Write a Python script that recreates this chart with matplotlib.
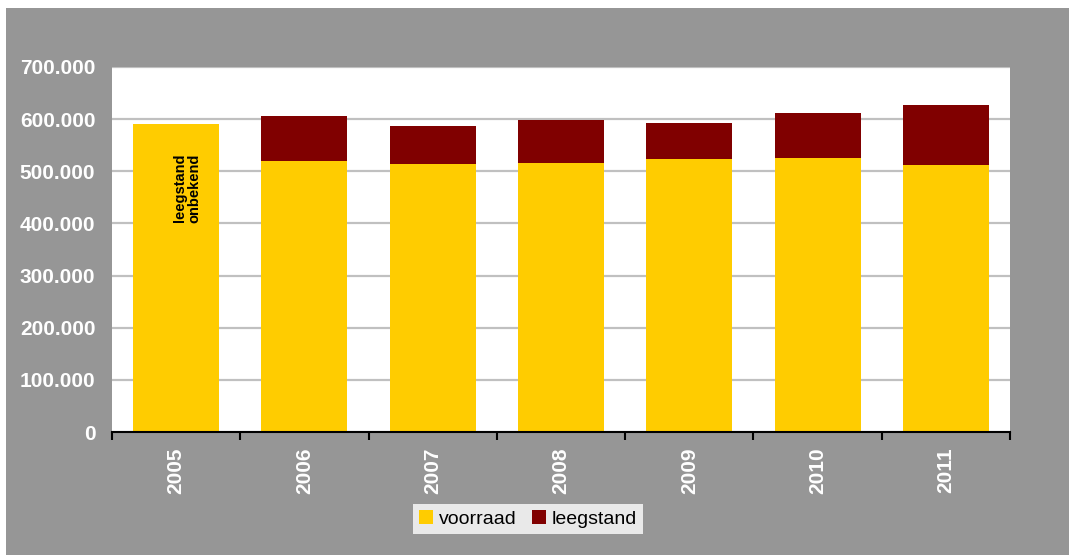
import matplotlib
matplotlib.use("Agg")
import matplotlib.pyplot as plt
from matplotlib.patches import Rectangle
from matplotlib.ticker import FuncFormatter, FixedLocator

years = ["2005", "2006", "2007", "2008", "2009", "2010", "2011"]
voorraad = [590000, 520000, 514000, 516000, 523000, 525000, 512000]
leegstand = [0, 86000, 73000, 82000, 69000, 87000, 115000]
annotation = "leegstand\nonbekend"

YELLOW = "#FFCC00"
DARKRED = "#800000"
GRAY = "#969696"

plt.rcParams['font.family'] = ['Liberation Sans', 'DejaVu Sans']

fig = plt.figure(figsize=(10.69, 5.55), dpi=100)
fig.patch.set_facecolor("white")
fig.patches.append(Rectangle((6/1069, 0), 1 - 6/1069, (555 - 8)/555,
                             transform=fig.transFigure, facecolor=GRAY,
                             edgecolor="none", zorder=-10))

ax = fig.add_axes([112/1069, 1 - 432/555, (1010 - 112)/1069, (432 - 67)/555])
ax.set_facecolor("white")

x = list(range(len(years)))
w = 0.67
ax.bar(x, voorraad, width=w, color=YELLOW, label="voorraad", zorder=3)
ax.bar(x, leegstand, width=w, bottom=voorraad, color=DARKRED, label="leegstand", zorder=3)

ax.set_xlim(-0.5, len(years) - 0.5)
ax.set_ylim(0, 700000)
ax.set_yticks(range(0, 700001, 100000))
ax.yaxis.set_major_formatter(FuncFormatter(lambda v, p: format(int(v), ",").replace(",", ".")))
ax.grid(axis="y", color="#c0c0c0", linewidth=1.6, zorder=0)
ax.set_axisbelow(True)

ax.set_xticks(x)
ax.set_xticklabels(years, rotation=90, color="white", fontweight="bold", fontsize=15)
ax.xaxis.set_minor_locator(FixedLocator([i - 0.5 for i in range(len(years) + 1)]))
ax.tick_params(axis="x", which="major", length=0, pad=11)
ax.tick_params(axis="x", which="minor", length=6, width=1.5, color="black", direction="out")
ax.tick_params(axis="y", length=0, pad=12, labelcolor="white", labelsize=15)
for lbl in ax.get_yticklabels():
    lbl.set_fontweight("bold")

for s in ["top", "right", "left"]:
    ax.spines[s].set_visible(False)
ax.spines["bottom"].set_color("black")
ax.spines["bottom"].set_linewidth(1.5)
ax.spines["bottom"].set_zorder(5)

ax.text(x[0] + 0.085, 468000, annotation, rotation=90, ha="center", va="center",
        fontsize=10.5, fontweight="bold", color="black", zorder=4, linespacing=1.0)

leg = fig.legend(loc="center", bbox_to_anchor=(528/1069, 1 - 519/555), ncol=2,
                 frameon=True, fancybox=False, fontsize=14, handlelength=0.7,
                 handleheight=0.7, handletextpad=0.3, columnspacing=0.8,
                 borderpad=0.3, borderaxespad=0)
leg.get_frame().set_facecolor("white")
leg.get_frame().set_edgecolor("white")
leg.get_frame().set_linewidth(0)

fig.savefig("out.png", dpi=100)
